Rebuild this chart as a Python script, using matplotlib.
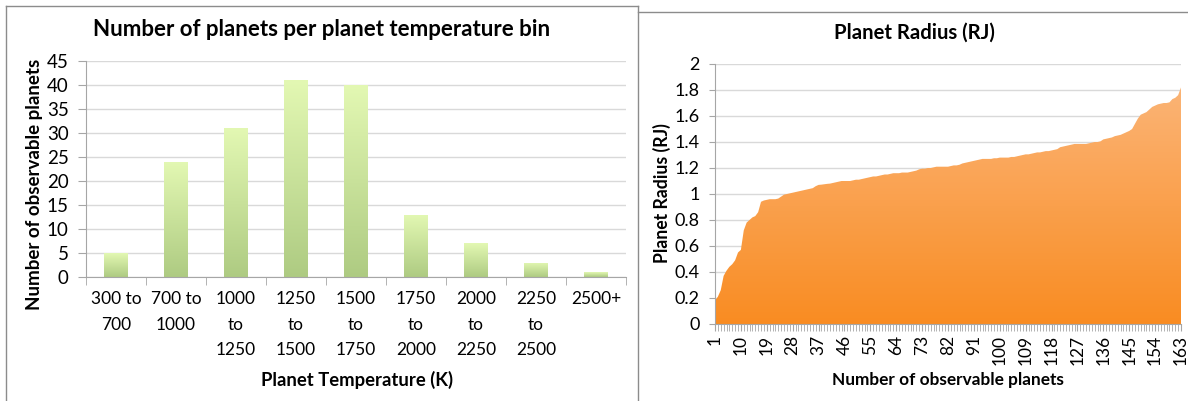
import matplotlib
matplotlib.use("Agg")
import matplotlib.pyplot as plt
import numpy as np
from matplotlib.lines import Line2D

plt.rcParams["font.family"] = ["Lato", "DejaVu Sans"]

# left chart: planets per temperature bin
temp_bins = ["300 to\n700", "700 to\n1000", "1000\nto\n1250", "1250\nto\n1500", "1500\nto\n1750",
             "1750\nto\n2000", "2000\nto\n2250", "2250\nto\n2500", "2500+"]
planet_counts = [5, 24, 31, 41, 40, 13, 7, 3, 1]

# right chart: sorted planet radius (RJ), one value per planet
radius_rj = [
    0.18, 0.21, 0.26, 0.37, 0.41, 0.44, 0.46, 0.49, 0.55, 0.57,
    0.72, 0.78, 0.80, 0.82, 0.83, 0.86, 0.94, 0.95, 0.955, 0.96,
    0.96, 0.96, 0.965, 0.98, 0.995, 1.00, 1.005, 1.01, 1.015, 1.02,
    1.025, 1.03, 1.035, 1.04, 1.045, 1.06, 1.07, 1.072, 1.075, 1.078,
    1.08, 1.085, 1.09, 1.095, 1.10, 1.10, 1.10, 1.10, 1.105, 1.11,
    1.11, 1.115, 1.12, 1.125, 1.13, 1.135, 1.135, 1.14, 1.145, 1.15,
    1.15, 1.155, 1.16, 1.16, 1.16, 1.165, 1.165, 1.165, 1.17, 1.175,
    1.18, 1.19, 1.195, 1.195, 1.20, 1.20, 1.205, 1.21, 1.21, 1.21,
    1.21, 1.21, 1.215, 1.22, 1.22, 1.225, 1.235, 1.24, 1.245, 1.25,
    1.255, 1.26, 1.265, 1.27, 1.27, 1.27, 1.27, 1.275, 1.275, 1.28,
    1.28, 1.28, 1.28, 1.285, 1.285, 1.29, 1.295, 1.30, 1.305, 1.305,
    1.31, 1.315, 1.32, 1.32, 1.325, 1.33, 1.33, 1.335, 1.34, 1.345,
    1.36, 1.365, 1.37, 1.375, 1.38, 1.385, 1.385, 1.385, 1.385, 1.385,
    1.39, 1.395, 1.40, 1.40, 1.405, 1.42, 1.425, 1.43, 1.435, 1.445,
    1.45, 1.455, 1.465, 1.475, 1.485, 1.50, 1.54, 1.58, 1.61, 1.62,
    1.63, 1.65, 1.67, 1.68, 1.69, 1.695, 1.70, 1.70, 1.705, 1.73,
    1.74, 1.76, 1.82,
]
planet_number = list(range(1, len(radius_rj) + 1))

W, H = 1188, 401
GRID = "#d9d9d9"
AXIS = "#a6a6a6"


def px_box(left, top, right, bottom):
    return [left / W, 1 - bottom / H, (right - left) / W, (bottom - top) / H]


def fig_line(x0, y0, x1, y1):
    fig.add_artist(Line2D([x0 / W, x1 / W], [1 - y0 / H, 1 - y1 / H], color="#8c8c8c", lw=1.0))


def fig_text(x, y, s, **kw):
    fig.text(x / W, 1 - y / H, s, ha="center", va="center", **kw)


fig = plt.figure(figsize=(W / 100, H / 100), dpi=100)

# panel borders
fig_line(6, 6, 6, H)
fig_line(6, 6, 638, 6)
fig_line(638, 6, 638, H)
fig_line(638, 12, W, 12)

# ---- left: bar chart with gradient bars
ax1 = fig.add_axes(px_box(86, 61, 626, 277))
x = np.arange(len(temp_bins))
bars = ax1.bar(x, planet_counts, width=0.4, color="none", zorder=2)
green = plt.matplotlib.colors.LinearSegmentedColormap.from_list("g", ["#aecb82", "#e3f8b3"])
grad = np.linspace(0, 1, 256).reshape(-1, 1)
for b in bars:
    bx, by = b.get_x(), b.get_y()
    im = ax1.imshow(grad, cmap=green, origin="lower", aspect="auto", zorder=2,
                    extent=(bx, bx + b.get_width(), by, by + b.get_height()))
    im.set_clip_path(b)
ax1.set_xlim(-0.5, len(temp_bins) - 0.5)
ax1.set_ylim(0, 45)
ax1.set_yticks(range(0, 46, 5))
ax1.set_xticks(x)
ax1.set_xticklabels(temp_bins, linespacing=1.75, va="top")
ax1.set_xticks(np.arange(-0.5, len(temp_bins)), minor=True)
ax1.tick_params(axis="x", which="major", length=0, pad=10, labelsize=12.5)
ax1.tick_params(axis="x", which="minor", length=6, color=AXIS, direction="out")
ax1.tick_params(axis="y", length=5.5, color=AXIS, pad=7, labelsize=13.5)
ax1.yaxis.grid(True, color=GRID, lw=1)
ax1.set_axisbelow(True)
for side in ("top", "right"):
    ax1.spines[side].set_visible(False)
for side in ("left", "bottom"):
    ax1.spines[side].set_color(AXIS)

fig_text(322, 29, "Number of planets per planet temperature bin", fontsize=16, fontweight="bold")
fig_text(35, 184, "Number of observable planets", fontsize=13.5, fontweight="bold", rotation=90)
fig_text(357, 380, "Planet Temperature (K)", fontsize=13.3, fontweight="bold")

# ---- right: area chart with gradient fill
ax2 = fig.add_axes(px_box(715, 64, 1181, 324))
area = ax2.fill_between(planet_number, radius_rj, 0, color="none", lw=0)
orange = plt.matplotlib.colors.LinearSegmentedColormap.from_list("o", ["#f98c22", "#fbb476"])
im = ax2.imshow(grad, cmap=orange, origin="lower", aspect="auto", zorder=2,
                extent=(planet_number[0], planet_number[-1], 0, max(radius_rj)))
im.set_clip_path(area.get_paths()[0], transform=ax2.transData)
ax2.set_xlim(planet_number[0], planet_number[-1])
ax2.set_ylim(0, 2)
ax2.set_yticks(np.arange(0, 2.01, 0.2))
ax2.set_yticklabels(["0", "0.2", "0.4", "0.6", "0.8", "1", "1.2", "1.4", "1.6", "1.8", "2"])
ax2.set_xticks(planet_number[::9])
ax2.set_xticks(planet_number, minor=True)
ax2.tick_params(axis="x", which="major", length=5, color=AXIS, rotation=90, labelsize=12.5, pad=3)
ax2.tick_params(axis="x", which="minor", length=5, color=AXIS, width=0.6)
ax2.tick_params(axis="y", length=4, color=AXIS, pad=7, labelsize=13)
ax2.yaxis.grid(True, color=GRID, lw=1)
ax2.set_axisbelow(True)
for side in ("top", "right"):
    ax2.spines[side].set_visible(False)
for side in ("left", "bottom"):
    ax2.spines[side].set_color(AXIS)

fig_text(914, 33, "Planet Radius (RJ)", fontsize=14.6, fontweight="bold")
fig_text(662, 193, "Planet Radius (RJ)", fontsize=12.7, fontweight="bold", rotation=90)
fig_text(948, 380, "Number of observable planets", fontsize=12.4, fontweight="bold")

fig.savefig("out.png", dpi=100)
